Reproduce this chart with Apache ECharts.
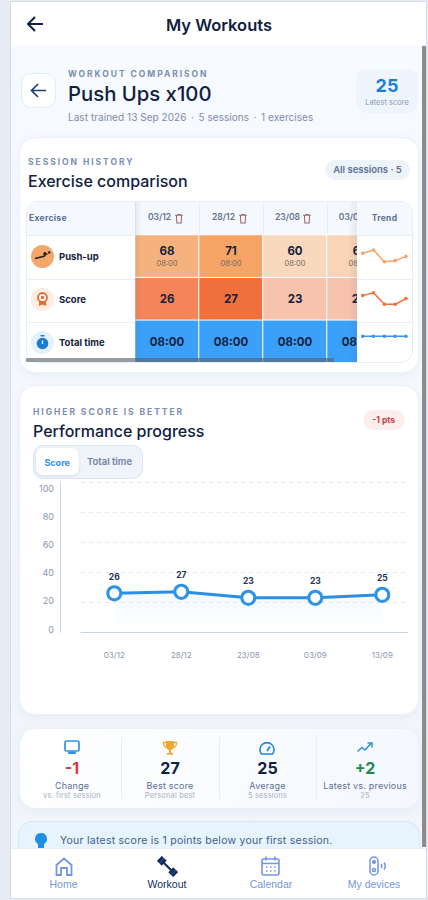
<!DOCTYPE html>
<html><head><meta charset="utf-8"><title>My Workouts</title>
<script src="https://cdn.jsdelivr.net/npm/echarts@6/dist/echarts.min.js"></script>
<style>
*{box-sizing:border-box}
html,body{margin:0;width:428px;height:900px;overflow:hidden;background:#E8EDF5;font-family:Inter,"Noto Sans",sans-serif;color:#10203F}
.a{position:absolute}
.t{position:absolute;white-space:nowrap;line-height:1;transform:translateY(-50%)}
.c{transform:translate(-50%,-50%)}
.eyebrow{font-size:8.5px;font-weight:700;letter-spacing:1.95px;color:#7C8DB0}
.h2{font-size:16px;font-weight:500;color:#10203F}
.card{position:absolute;background:#fff;border:1px solid #EBF1F9;border-radius:16px;box-shadow:0 3px 10px rgba(90,120,170,.07)}
.row{font-size:9.5px;font-weight:700;color:#14213D}
.nav{font-size:10.5px;color:#7496E0;font-family:"Liberation Sans",Arial,sans-serif}
.v{font-size:16px;font-weight:700;color:#10203F}
.l{font-size:9px;color:#5C6F92;letter-spacing:.2px}
.s{font-size:7.5px;color:#A6B1C4;letter-spacing:.15px}
.div{position:absolute;top:737px;width:1px;height:62px;background:#E6EDF6}
.dot{margin:0 4.5px}
</style></head><body>
<div class="a" style="left:11px;top:2px;width:415px;height:896px;background:linear-gradient(180deg,#F7FAFF,#F1F5FA);outline:1px solid #D5DCE6"></div>
<div class="a" style="left:11px;top:2px;width:415px;height:43px;background:#fff"></div>
<svg class="a" style="left:26px;top:15px" width="18" height="18" viewBox="0 0 18 18" fill="none" stroke="#10203F" stroke-width="2"><path d="M17 9H2M9 2 2 9l7 7"/></svg>
<div class="t c" style="left:219px;top:25px;font-size:16.5px;font-weight:600">My Workouts</div>

<div class="a" style="left:20.5px;top:73px;width:35px;height:35px;background:#fff;border:1px solid #E3EBF6;border-radius:10px"></div>
<svg class="a" style="left:30px;top:82px" width="17" height="17" viewBox="0 0 17 17" fill="none" stroke="#1F3F72" stroke-width="1.7"><path d="M16 8.5H1.5M8 2 1.5 8.5 8 15"/></svg>
<div class="t eyebrow" style="left:68px;top:74px">WORKOUT COMPARISON</div>
<div class="t" style="left:68px;top:94px;font-size:20.3px;font-weight:500">Push Ups x100</div>
<div class="t" style="left:68px;top:116.5px;font-size:10px;color:#7E8CA8;letter-spacing:.05px">Last trained 13 Sep 2026<span class="dot">·</span>5 sessions<span class="dot">·</span>1 exercises</div>
<div class="a" style="left:356px;top:69px;width:62px;height:44px;background:#EEF5FD;border-radius:11px"></div>
<div class="t c" style="left:387px;top:86px;font-size:18px;font-weight:700;color:#1C7FD6">25</div>
<div class="t c" style="left:387px;top:102.5px;font-size:7.5px;color:#8C9BB5">Latest score</div>

<!-- session card -->
<div class="card" style="left:19px;top:137px;width:400px;height:236px"></div>
<div class="t eyebrow" style="left:28px;top:162px">SESSION HISTORY</div>
<div class="t h2" style="left:28px;top:181px">Exercise comparison</div>
<div class="a" style="left:325px;top:160px;width:85px;height:20px;background:#EDF3FB;border-radius:10px"></div>
<div class="t c" style="left:367.5px;top:170px;font-size:9.5px;font-weight:600;color:#5C6F92">All sessions · 5</div>

<div class="a" id="tbl" style="left:26px;top:201px;width:386.5px;height:162px;border:1px solid #E6EDF6;border-radius:12px;overflow:hidden;background:#fff">
  <div class="a" style="left:-1px;top:-1px;width:388px;height:35px;background:#F5F8FD;border-bottom:1px solid #E6EDF6"></div>
  <div class="a" id="hm-wrap" style="left:108px;top:-1px;width:222px;height:162px;overflow:hidden">
    <div class="a" id="hm-sep" style="left:0;top:0;width:320px;height:34px;background:repeating-linear-gradient(90deg,#E6EDF6 0,#E6EDF6 1px,transparent 1px,transparent 64px)"></div>
    <div class="a" id="heat" style="left:0;top:0;width:320px;height:162px"></div>
    <div class="a" id="trash" style="left:0;top:0;width:320px;height:34px"></div>
    <div class="a" style="left:0;top:0;width:7px;height:162px;background:linear-gradient(90deg,rgba(60,80,110,.09),transparent)"></div>
    <div class="a" style="right:0;top:0;width:9px;height:162px;background:linear-gradient(270deg,rgba(60,80,110,.09),transparent)"></div>
  </div>
  <div class="a" style="left:-1px;top:76.5px;width:109px;height:1px;background:#E6EDF6"></div>
  <div class="a" style="left:-1px;top:119.5px;width:109px;height:1px;background:#E6EDF6"></div>
  <div class="a" style="left:330px;top:76.5px;width:56px;height:1px;background:#E6EDF6"></div>
  <div class="a" style="left:330px;top:119.5px;width:56px;height:1px;background:#E6EDF6"></div>
</div>
<div class="t" style="left:29px;top:218px;font-size:8.5px;font-weight:700;color:#5C6F92;letter-spacing:.3px">Exercise</div>
<div class="t c" style="left:384.5px;top:218px;font-size:8.5px;font-weight:700;color:#5C6F92;letter-spacing:.3px">Trend</div>
<div class="a" id="trend" style="left:357px;top:235px;width:55px;height:128px"></div>

<div class="a" style="left:31px;top:244.5px;width:23px;height:23px;border-radius:50%;background:#F4A768"></div>
<svg class="a" style="left:34px;top:250px" width="17" height="11" viewBox="0 0 17 11" fill="none" stroke="#222" stroke-width="1.7"><path d="M1 8.5 11 6M11 6V2M9 4h4.5"/><circle cx="15.2" cy="2.5" r="1.2" fill="#222" stroke="none"/></svg>
<div class="t row" style="left:59px;top:256.5px">Push-up</div>
<div class="a" style="left:31px;top:288px;width:23px;height:23px;border-radius:50%;background:#FDEDE3"></div>
<svg class="a" style="left:36px;top:292px" width="13" height="15" viewBox="0 0 13 15"><path d="M3 8v6l3.5-1.500L10 14V8z" fill="#E86A33"/><circle cx="6.5" cy="5.5" r="4.5" fill="#fff" stroke="#E86A33" stroke-width="1.8"/><circle cx="6.5" cy="5.5" r="1.7" fill="#E86A33"/></svg>
<div class="t row" style="left:59px;top:299.5px">Score</div>
<div class="a" style="left:31px;top:331px;width:23px;height:23px;border-radius:50%;background:#E5F1FD"></div>
<svg class="a" style="left:36px;top:335px" width="13" height="15" viewBox="0 0 13 15"><rect x="4.5" y="0" width="4" height="1.5" fill="#1B7CD0"/><circle cx="6.5" cy="8.5" r="5.8" fill="#1B7CD0"/><path d="M6.5 5.5V9" stroke="#fff" stroke-width="1.2"/></svg>
<div class="t row" style="left:59px;top:342.5px">Total time</div>
<div class="a" style="left:26px;top:358px;width:308px;height:4px;background:rgba(90,95,100,.62)"></div>

<!-- progress card -->
<div class="card" style="left:19px;top:385px;width:400px;height:330px"></div>
<div class="t eyebrow" style="left:33px;top:412px">HIGHER SCORE IS BETTER</div>
<div class="t h2" style="left:33px;top:431px">Performance progress</div>
<div class="a" style="left:362.5px;top:409.5px;width:42.5px;height:20.5px;background:#FDEEEE;border-radius:10px"></div>
<div class="t c" style="left:383.7px;top:420px;font-size:8.5px;font-weight:700;color:#C9414A">-1 pts</div>
<div class="a" style="left:33px;top:445px;width:110px;height:33.5px;background:#EFF3FA;border:1px solid #DCE6F3;border-radius:10px"></div>
<div class="a" style="left:36px;top:448px;width:42.5px;height:27px;background:#fff;border-radius:7px;box-shadow:0 1px 3px rgba(90,120,170,.18)"></div>
<div class="t c" style="left:57.2px;top:462px;font-size:9px;font-weight:700;color:#2E8FE8">Score</div>
<div class="t c" style="left:109.5px;top:462px;font-size:9.5px;font-weight:600;color:#6F82A3">Total time</div>
<div class="a" id="line" style="left:0;top:440px;width:428px;height:240px"></div>

<!-- stats -->
<div class="card" style="left:19px;top:727.5px;width:400.5px;height:81.5px;background:linear-gradient(115deg,#fff,#F4F8FE)"></div>
<div class="div" style="left:121px"></div><div class="div" style="left:218.5px"></div><div class="div" style="left:316px"></div>
<svg class="a" style="left:64px;top:740px" width="16" height="15" viewBox="0 0 16 15"><rect x="1" y="1" width="14" height="10" rx="1.5" fill="#fff" stroke="#2E93E6" stroke-width="1.7"/><path d="M4.5 11.5h7l.5 2.5H4z" fill="#2E93E6"/></svg>
<svg class="a" style="left:162px;top:740px" width="16" height="16" viewBox="0 0 16 16"><path d="M4 1h8v5a4 4 0 0 1-8 0z" fill="#F0A72F"/><path d="M4 2.5H1.5c0 3 1 4.5 3 4.8M12 2.5h2.5c0 3-1 4.5-3 4.8" fill="none" stroke="#F0A72F" stroke-width="1.3"/><path d="M7 9.5h2V13H7zM5 13h6v1.7H5z" fill="#F0A72F"/></svg>
<svg class="a" style="left:259px;top:741px" width="16" height="14" viewBox="0 0 16 14" fill="none" stroke="#2086DA" stroke-width="1.6"><path d="M2.5 13A7 7 0 1 1 13.5 13z"/><path d="M8 10 11 5.5" stroke-width="1.8"/></svg>
<svg class="a" style="left:357px;top:742px" width="16" height="11" viewBox="0 0 16 11" fill="none" stroke="#2A8FE4" stroke-width="1.5"><path d="M.5 9.5 5 5.5l3 2.5 6-6.5"/><path d="M10.5 1H15v4.5" /></svg>
<div class="t c v" style="left:72px;top:768px;color:#D13B43">-1</div>
<div class="t c v" style="left:170px;top:768px">27</div>
<div class="t c v" style="left:267.5px;top:768px">25</div>
<div class="t c v" style="left:365px;top:768px;color:#1F8A4C">+2</div>
<div class="t c l" style="left:72px;top:785px">Change</div>
<div class="t c l" style="left:170px;top:785px">Best score</div>
<div class="t c l" style="left:267.5px;top:785px">Average</div>
<div class="t c l" style="left:365px;top:785px">Latest vs. previous</div>
<div class="t c s" style="left:72px;top:795.5px">vs. first session</div>
<div class="t c s" style="left:170px;top:795.5px">Personal best</div>
<div class="t c s" style="left:267.5px;top:795.5px">5 sessions</div>
<div class="t c s" style="left:365px;top:795.5px">25</div>

<!-- tip -->
<div class="a" style="left:18px;top:821px;width:401.5px;height:40px;background:#E7F3FD;border:1px solid #D5E7F8;border-radius:14px"></div>
<svg class="a" style="left:35px;top:833px" width="12" height="15" viewBox="0 0 12 15"><path d="M6 0a6 6 0 0 1 3 11.2V15H3v-3.8A6 6 0 0 1 6 0z" fill="#1F8FE8"/></svg>
<div class="t" style="left:60px;top:841px;font-size:10.5px;color:#3E6089;letter-spacing:.25px">Your latest score is 1 points below your first session.</div>

<!-- scrollbar and nav -->
<div class="a" style="left:422px;top:46px;width:4px;height:801px;background:#8C8C8C"></div>
<div class="a" style="left:11px;top:848px;width:415px;height:50px;background:#fff;border-top:1px solid #E6EEF8"></div>
<svg class="a" style="left:55px;top:857px" width="18" height="19" viewBox="0 0 18 19" fill="none" stroke="#7496E0" stroke-width="1.8"><path d="M1.5 8 9 1.5 16.5 8v10H12v-7H6v7H1.5z"/></svg>
<svg class="a" style="left:157px;top:856px" width="21" height="21" viewBox="0 0 21 21" stroke="#12305F" fill="none"><path d="M5 5 16 16" stroke-width="2.2"/><path d="M1 6 6 1M3.5 8.5l5-5M12.5 17.500l5-5M15 20l5-5" stroke-width="3.2"/></svg>
<svg class="a" style="left:261px;top:856px" width="19" height="20" viewBox="0 0 19 20" fill="none" stroke="#7496E0" stroke-width="1.6"><rect x="1" y="3" width="17" height="16" rx="2"/><path d="M1 7.5h17M5 .5v4M14 .5v4" /><path d="M5 11h1.5M9 11h1.5M13 11h1.5M5 15h1.5M9 15h1.5M13 15h1.5" stroke-width="1.5"/></svg>
<svg class="a" style="left:369px;top:856px" width="18" height="20" viewBox="0 0 18 20" fill="none" stroke="#7496E0" stroke-width="1.5"><rect x="1" y="1" width="8" height="18" rx="4"/><circle cx="5" cy="6" r="1.3" fill="#7496E0"/><circle cx="5" cy="14" r="1.5"/><path d="M12 8c1 1.3 1 2.7 0 4M15 6.5c1.5 2.2 1.5 4.8 0 7"/></svg>
<div class="t c nav" style="left:63.5px;top:884px">Home</div>
<div class="t c nav" style="left:167px;top:884px;color:#12305F">Workout</div>
<div class="t c nav" style="left:271px;top:884px">Calendar</div>
<div class="t c nav" style="left:374px;top:884px">My devices</div>

<script>
const sessionDates = ['03/12', '28/12', '23/08', '03/09', '13/09'];
const exerciseRows = ['Push-up', 'Score', 'Total time'];
const pushUpReps = [68, 71, 60, 61, 65];
const sessionScores = [26, 27, 23, 23, 25];
const totalTimeSeconds = [480, 480, 480, 480, 480];
const scoreTicks = [0, 20, 40, 60, 80, 100];

const INK = '#14213D', FONT = 'Inter';
const clock = s => String(Math.floor(s / 60)).padStart(2, '0') + ':' + String(s % 60).padStart(2, '0');
const toCells = (vals, row) => vals.map((v, i) => [i, row, v]);
const heatSeries = (vals, row, label) => ({
  type: 'heatmap', data: toCells(vals, row),
  itemStyle: { borderColor: '#fff', borderWidth: 1 },
  label: Object.assign({ show: true, fontFamily: FONT, color: INK }, label),
  emphasis: { disabled: true }
});

const heat = echarts.init(document.getElementById('heat'), null, { renderer: 'svg' });
heat.setOption({
  animation: false,
  grid: { left: 0, top: 34, right: 0, bottom: 0 },
  xAxis: { type: 'category', position: 'top', data: sessionDates, axisLine: { show: false }, axisTick: { show: false },
    axisLabel: { interval: 0, margin: 12, formatter: d => '{d|' + d + '}{s|}',
      rich: { d: { fontFamily: FONT, fontSize: 8.5, fontWeight: 600, color: '#5C6F92' }, s: { width: 15 } } } },
  yAxis: { type: 'category', inverse: true, data: exerciseRows, axisLine: { show: false }, axisTick: { show: false }, axisLabel: { show: false } },
  visualMap: [
    { show: false, seriesIndex: 0, dimension: 2, min: 60, max: 71, inRange: { color: ['#F9D9BE', '#F5A466'] } },
    { show: false, seriesIndex: 1, dimension: 2, min: 23, max: 27, inRange: { color: ['#F7C3AD', '#F2703D'] } },
    { show: false, seriesIndex: 2, dimension: 2, min: 0, max: 480, inRange: { color: ['#3BA0FA', '#3BA0FA'] } }
  ],
  series: [
    heatSeries(pushUpReps, 0, {
      formatter: p => '{a|' + p.value[2] + '}\n{b|' + clock(totalTimeSeconds[p.dataIndex]) + '}',
      rich: { a: { fontFamily: FONT, fontSize: 11.5, fontWeight: 700, color: INK, lineHeight: 15 },
              b: { fontFamily: FONT, fontSize: 7.5, color: '#6F6A66', lineHeight: 11 } } }),
    heatSeries(sessionScores, 1, { fontSize: 11.5, fontWeight: 700 }),
    heatSeries(totalTimeSeconds, 2, { fontSize: 11.5, fontWeight: 700, formatter: p => clock(p.value[2]) })
  ]
});

document.getElementById('trash').innerHTML = sessionDates.map((d, i) =>
  '<svg class="a" style="left:' + (i * 64 + 40) + 'px;top:13px" width="8" height="9.5" viewBox="0 0 9 11" fill="none" stroke="#A0636B" stroke-width="1.2"><path d="M0 1.5h9M3 1.5V.5h3v1M1.5 1.5l.5 9h5l.5-9"/></svg>').join('');

const spark = echarts.init(document.getElementById('trend'), null, { renderer: 'svg' });
const sparkLine = (vals, idx, color) => ({ type: 'line', xAxisIndex: idx, yAxisIndex: idx, data: vals, silent: true,
  lineStyle: { color, width: 1.5 }, itemStyle: { color }, symbol: 'circle', symbolSize: 3.5 });
const sparkY = (min, max, gridIndex) => ({ type: 'value', gridIndex, min, max, show: false });
const sparkX = gridIndex => ({ type: 'category', gridIndex, data: sessionDates, boundaryGap: false, show: false });
spark.setOption({
  animation: false,
  grid: [
    { left: 5.7, width: 43.3, top: 15, height: 11.7 },
    { left: 5.7, width: 43.3, top: 57.7, height: 11.6 },
    { left: 5.7, width: 43.3, top: 95, height: 12.6 }
  ],
  xAxis: [sparkX(0), sparkX(1), sparkX(2)],
  yAxis: [sparkY(60, 71, 0), sparkY(23, 27, 1), sparkY(0, 960, 2)],
  series: [sparkLine(pushUpReps, 0, '#F5A466'), sparkLine(sessionScores, 1, '#F2703D'), sparkLine(totalTimeSeconds, 2, '#3A95E6')]
});

const line = echarts.init(document.getElementById('line'), null, { renderer: 'svg' });
const top0 = 42.3, plotH = 150;
const tickColor = '#8A96AE';
line.setOption({
  animation: false,
  grid: [
    { left: 81, width: 327, top: top0, height: plotH },
    { left: 60, width: 1, top: 48, height: 141 },
    { left: 80.8, width: 335, top: top0, height: plotH }
  ],
  xAxis: [
    { type: 'value', gridIndex: 0, min: 0, max: 1, axisLabel: { show: false }, axisTick: { show: false }, splitLine: { show: false },
      axisLine: { show: true, onZero: false, lineStyle: { color: '#CBD5E1', width: 1 } } },
    { type: 'value', gridIndex: 1, min: 0, max: 1, show: false },
    { type: 'category', gridIndex: 2, data: sessionDates, axisLine: { show: false }, axisTick: { show: false },
      axisLabel: { interval: 0, margin: 19, color: tickColor, fontFamily: FONT, fontSize: 8 } }
  ],
  yAxis: [
    { type: 'value', gridIndex: 0, min: 0, max: 100, interval: 20, offset: 21, axisLabel: { show: false }, axisTick: { show: false },
      axisLine: { show: true, onZero: false, lineStyle: { color: '#CBD5E1', width: 1 } },
      splitLine: { lineStyle: { color: '#E2E8F4', type: [4, 4], width: 1 } } },
    { type: 'value', gridIndex: 1, min: scoreTicks[0], max: scoreTicks[scoreTicks.length - 1], interval: 20,
      axisLine: { show: false }, axisTick: { show: false }, splitLine: { show: false },
      axisLabel: { margin: 6, color: tickColor, fontFamily: FONT, fontSize: 9 } },
    { type: 'value', gridIndex: 2, min: 0, max: 100, show: false }
  ],
  series: [{
    type: 'line', xAxisIndex: 2, yAxisIndex: 2, data: sessionScores, smooth: false, clip: false,
    symbol: 'circle', symbolSize: 13,
    lineStyle: { color: '#2A8FE4', width: 3 },
    itemStyle: { color: '#fff', borderColor: '#2E93E6', borderWidth: 3 },
    areaStyle: { color: new echarts.graphic.LinearGradient(0, 0, 0, 1, [
      { offset: 0, color: 'rgba(46,147,230,.08)' }, { offset: 1, color: 'rgba(46,147,230,0)' }]) },
    label: { show: true, position: 'top', distance: 4, color: '#1F3358', fontFamily: FONT, fontSize: 8.5, fontWeight: 700 }
  }]
});
</script>
</body></html>
